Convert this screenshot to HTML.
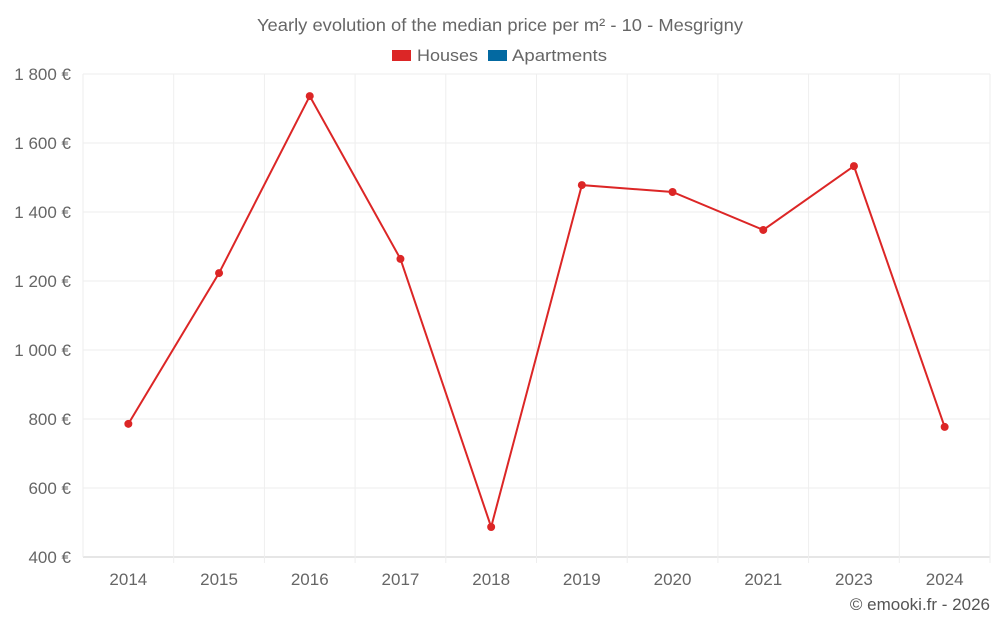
<!DOCTYPE html>
<html><head><meta charset="utf-8"><style>
body{margin:0;background:#fff;width:1000px;height:625px;overflow:hidden;font-family:"Liberation Sans",sans-serif}
</style></head><body>
<svg id="chart" width="1000" height="625" xmlns="http://www.w3.org/2000/svg" font-family="Liberation Sans, sans-serif">
<text x="500" y="31" text-anchor="middle" font-size="17.5" fill="#666" textLength="486" lengthAdjust="spacingAndGlyphs">Yearly evolution of the median price per m² - 10 - Mesgrigny</text>
<g>
<g><rect x="392" y="50" width="19" height="11" fill="#dc2626"/><text x="417" y="61" font-size="17" fill="#666" textLength="61" lengthAdjust="spacingAndGlyphs">Houses</text></g>
<g><rect x="488" y="50" width="19" height="11" fill="#0369a1"/><text x="512" y="61" font-size="17" fill="#666" textLength="95" lengthAdjust="spacingAndGlyphs">Apartments</text></g>
</g>
<g id="grid"></g>
<g id="axes"></g>
<g id="series"></g>
<text x="990" y="610" text-anchor="end" font-size="17" fill="#555">© emooki.fr - 2026</text>
</svg>
<script>
const categories=["2014","2015","2016","2017","2018","2019","2020","2021","2023","2024"];
const houses=[786,1223,1736,1264,487,1478,1458,1348,1533,777];
const yTicks=[400,600,800,1000,1200,1400,1600,1800];
const NS="http://www.w3.org/2000/svg";
const L=83,R=990,T=74,B=557,yMin=400,yMax=1800;
const bw=(R-L)/categories.length;
const x=i=>L+bw*(i+0.5);
const y=v=>B-(v-yMin)/(yMax-yMin)*(B-T);
function mk(t,a,p){const e=document.createElementNS(NS,t);for(const k in a)e.setAttribute(k,a[k]);p.appendChild(e);return e;}
const grid=document.getElementById('grid'),axes=document.getElementById('axes'),ser=document.getElementById('series');
yTicks.forEach(v=>{
 const l=mk('line',{x1:L,x2:R,y1:y(v),y2:y(v),stroke:v===yMin?'#ccc':'#eee'},grid);
 
 
 const t=mk('text',{x:71,y:y(v)+6,'text-anchor':'end','font-size':17,fill:'#666'},axes);
 t.textContent=v.toLocaleString('fr-FR').replace(/\u202f|\u00a0/g,' ')+' €';
 
 
});
for(let i=0;i<=categories.length;i++){
 const l=mk('line',{x1:L+bw*i,x2:L+bw*i,y1:T,y2:B+(i>0?6:0),stroke:'#eee'},grid);
 
 
}
categories.forEach((c,i)=>{
 const t=mk('text',{x:x(i),y:585,'text-anchor':'middle','font-size':17,fill:'#666'},axes);
 t.textContent=c;
 
 
});
const pl=mk('polyline',{points:houses.map((v,i)=>x(i)+','+y(v)).join(' '),fill:'none',stroke:'#dc2626','stroke-width':2},ser);


houses.forEach((v,i)=>{
 const c=mk('circle',{cx:x(i),cy:y(v),r:4,fill:'#dc2626'},ser);
 
 
});
</script>
</body></html>
